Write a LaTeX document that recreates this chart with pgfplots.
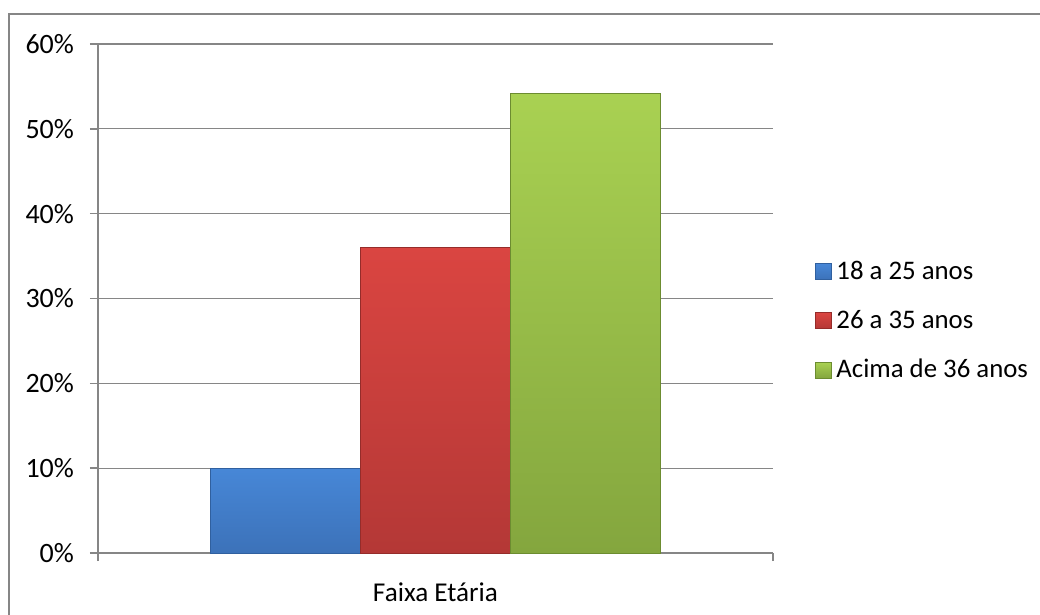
\documentclass[border=0pt]{standalone}
\usepackage{pgfplots}
\pgfplotsset{compat=1.18}
\usepackage{fontspec}
\setmainfont{Carlito}
\definecolor{gridc}{HTML}{868686}
\definecolor{blueT}{HTML}{4787D7}
\definecolor{blueB}{HTML}{3C72B9}
\definecolor{blueE}{HTML}{30609F}
\definecolor{redT}{HTML}{DA4541}
\definecolor{redB}{HTML}{B43836}
\definecolor{redE}{HTML}{952C2A}
\definecolor{greenT}{HTML}{A9D152}
\definecolor{greenB}{HTML}{84A63E}
\definecolor{greenE}{HTML}{6C8C30}
\pgfplotsset{
  mybar/.style={ybar, bar width=0.2222, bar shift=#1,
    legend image code/.code={\draw[##1] (0pt,-4pt) rectangle (8pt,4pt); \path (8.2pt,0pt);}},
}
\begin{document}
\begin{tikzpicture}
\useasboundingbox (0,0) rectangle (520pt,-307.5pt);
\draw[gridc, line width=0.9pt] (4.5pt,-310pt) -- (4.5pt,-7pt) -- (525pt,-7pt);
\begin{axis}[
  at={(49pt,-276.5pt)}, anchor=south west,
  scale only axis, width=337.5pt, height=254.5pt,
  xmin=-0.5, xmax=0.5, ymin=0, ymax=60,
  ytick={0,10,20,30,40,50,60},
  yticklabel={\pgfmathprintnumber{\tick}\%},
  /pgf/number format/assume math mode=true,
  ymajorgrids, grid style={gridc, line width=0.6pt},
  axis x line*=bottom, axis y line*=left,
  axis line style={gridc, line width=0.7pt},
  tick style={gridc, line width=0.7pt},
  tick align=outside, major tick length=4pt,
  xtick={-0.5,0.5}, xticklabels={},
  xlabel={Faixa Etária},
  xlabel style={at={(axis description cs:0.5,-0.0766)}, anchor=center, font=\fontsize{13.6}{16}\selectfont},
  tick label style={font=\fontsize{14}{16}\selectfont},
  yticklabel style={xshift=-4.5pt},
  legend style={at={(1.062,0.456)}, anchor=west, draw=none, fill=none,
    font=\fontsize{13.4}{16}\selectfont, row sep=10pt, inner sep=0pt},
  legend cell align=left,
]
\addplot[mybar=-0.2222, draw=blueE, top color=blueT, bottom color=blueB] coordinates {(0,10)};
\addplot[mybar=0, draw=redE, top color=redT, bottom color=redB] coordinates {(0,36)};
\addplot[mybar=0.2222, draw=greenE, top color=greenT, bottom color=greenB] coordinates {(0,54.2)};
\legend{18 a 25 anos, 26 a 35 anos, Acima de 36 anos}
\end{axis}
\end{tikzpicture}
\end{document}
